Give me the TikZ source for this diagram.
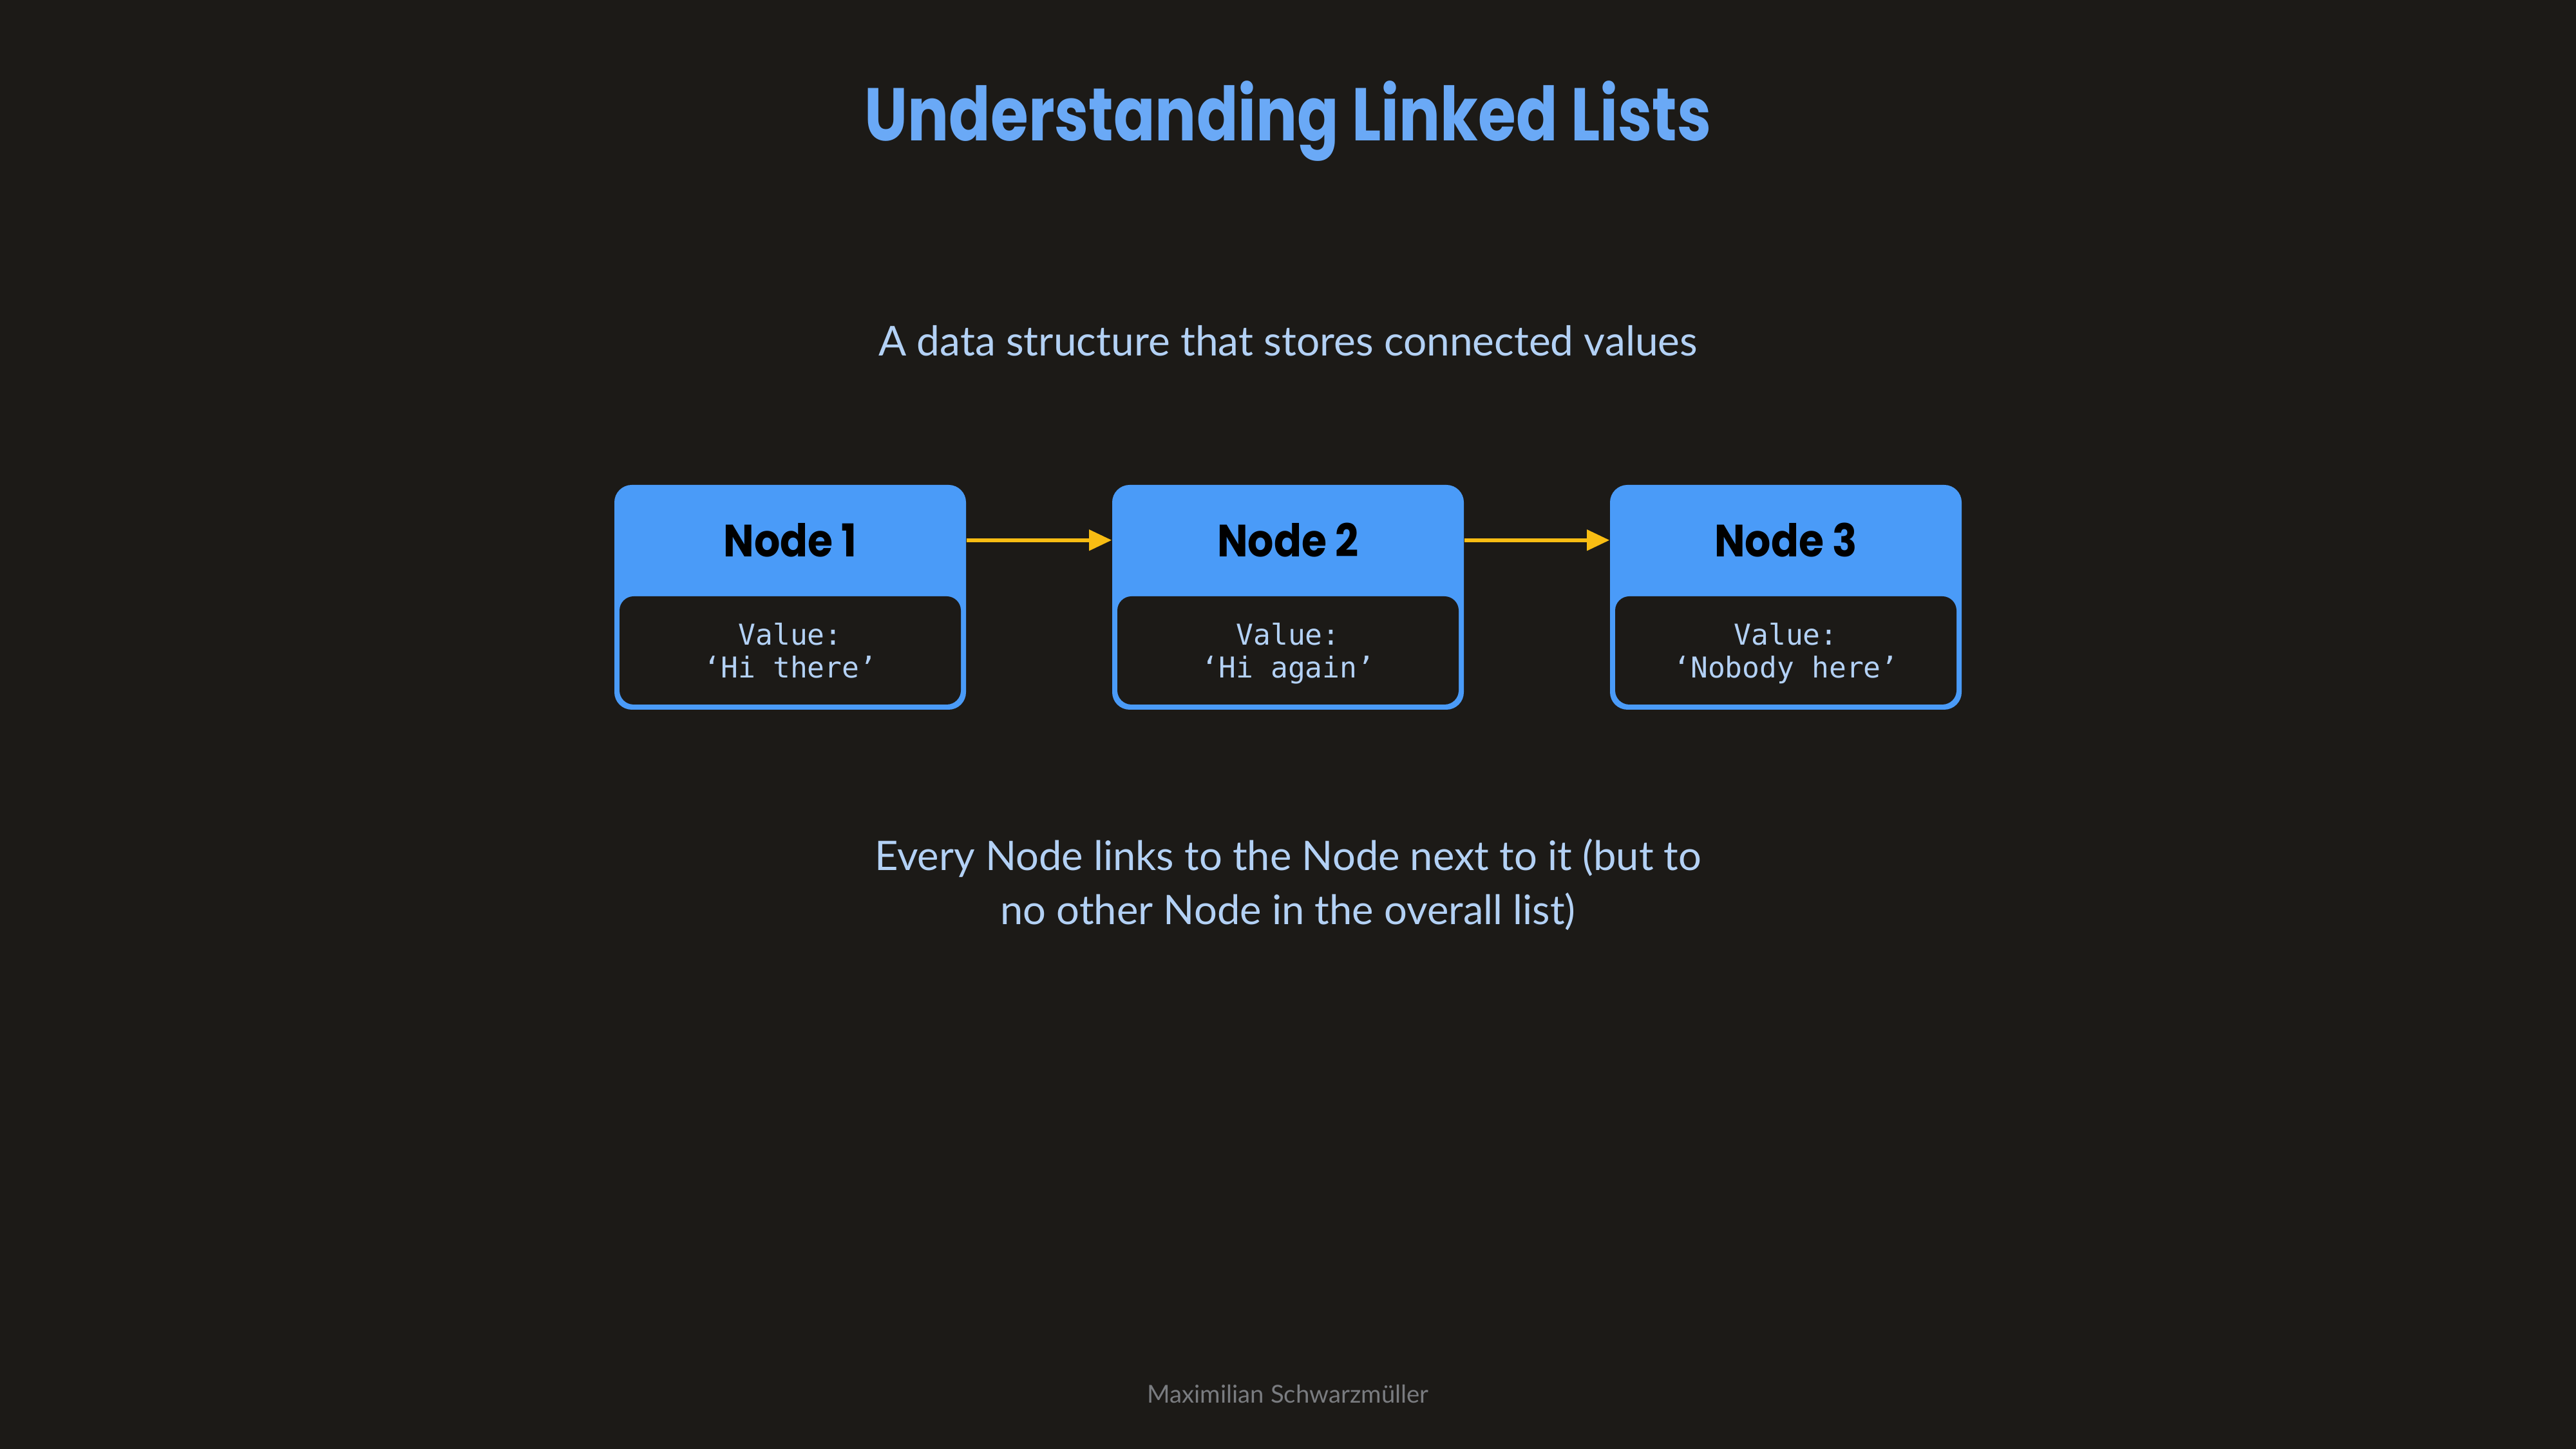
\documentclass[tikz,border=0pt]{standalone}
\usepackage{fontspec}
\setmainfont{Lato}
\setmonofont{DejaVu Sans Mono}
\newfontfamily\headfont{Poppins}
\newfontfamily\titlefont[FakeStretch=0.82]{Poppins}
\newfontfamily\labelfont[FakeStretch=0.9]{Poppins}
\usetikzlibrary{arrows.meta, positioning}
\definecolor{bgdark}{HTML}{1C1A17}
\definecolor{boxblue}{HTML}{4A9BF8}
\definecolor{titleblue}{HTML}{6AA9F6}
\definecolor{paleblue}{HTML}{B3D1F5}
\definecolor{linkyellow}{HTML}{F8BD13}
\definecolor{footgray}{HTML}{7A7C80}
\newcommand{\valtop}{\rule{0pt}{14pt}}

\begin{document}
\begin{tikzpicture}[on grid, node distance = 7.73cm,
	listbox/.style = {rectangle, rounded corners = 0.27cm, fill = boxblue, minimum width = 5.46cm, minimum height = 3.49cm, inner sep = 0pt},
	listbody/.style = {rectangle, rounded corners = 0.22cm, fill = bgdark, minimum width = 5.30cm, minimum height = 1.68cm, inner sep = 0pt, align = center, text = paleblue, font = \ttfamily\fontsize{12.7}{14.5}\selectfont},
	headlabel/.style = {font = \labelfont\bfseries\fontsize{20}{24}\selectfont, text = black},
	link/.style = {-{Triangle[length = 10pt, width = 9pt]}, line width = 1.6pt, draw = linkyellow, fill = linkyellow}]
		\fill[bgdark] (0,0) rectangle (40,22.5);
		\useasboundingbox (0,0) rectangle (40,22.5);
		
		\node[anchor = base, text = titleblue, font = \titlefont\bfseries\fontsize{33}{36}\selectfont] (title) at (20,20.31) {Understanding Linked Lists};
		\node[anchor = base, text = paleblue, font = \fontsize{18.2}{22}\selectfont] (subtitle) at (20,16.97) {A data structure that stores connected values};
		
		\node[listbox] (box1) at (12.27,13.225) {};
		\node[listbox, right = of box1] (box2) {};
		\node[listbox, right = of box2] (box3) {};
		
		\node[listbody, anchor = south] (val1) at ([yshift = 0.08cm]box1.south) {\valtop Value:\\‘Hi there’\strut};
		\node[listbody, anchor = south] (val2) at ([yshift = 0.08cm]box2.south) {\valtop Value:\\‘Hi again’\strut};
		\node[listbody, anchor = south] (val3) at ([yshift = 0.08cm]box3.south) {\valtop Value:\\‘Nobody here’\strut};
		
		\node[headlabel] (lab1) at ([yshift = -0.865cm]box1.north) {Node 1};
		\node[headlabel] (lab2) at ([yshift = -0.865cm]box2.north) {Node 2};
		\node[headlabel] (lab3) at ([yshift = -0.865cm]box3.north) {Node 3};
		
		\draw[link] (box1.east |- lab1) -- (box2.west |- lab2);
		\draw[link] (box2.east |- lab2) -- (box3.west |- lab3);
		
		\node[anchor = base, align = center, text = paleblue, font = \fontsize{18}{23.9}\selectfont] (note) at (20,8.14) {Every Node links to the Node next to it (but to\\no other Node in the overall list)};
		\node[anchor = base, text = footgray, font = \fontsize{10.9}{13}\selectfont] (author) at (20,0.71) {Maximilian Schwarzmüller};
\end{tikzpicture}
\end{document}
